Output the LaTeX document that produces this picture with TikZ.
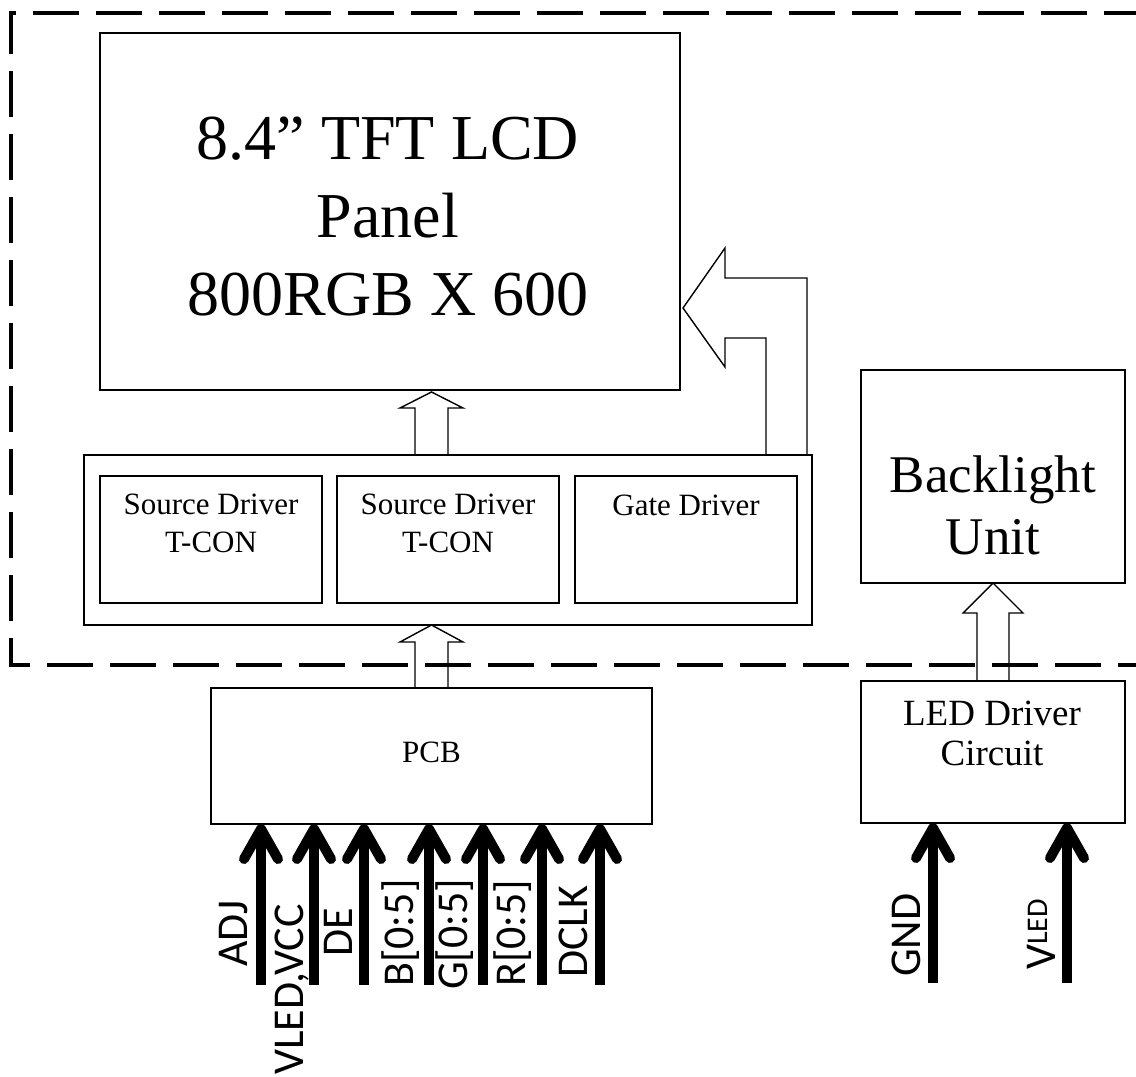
\documentclass[tikz,border=0pt]{standalone}
\usepackage{fontspec}
\setmainfont{Liberation Serif}
\newfontfamily\labelfont{Carlito}
\usetikzlibrary{arrows.meta}

\tikzset{
  box/.style={draw, line width=1.4pt, inner sep=0pt, outer sep=0pt},
  hollow/.style={draw, line width=1.4pt, line join=miter},
  border/.style={line width=4pt, dash pattern=on 46pt off 17pt},
  sig/.style={line width=10pt, -{Straight Barb[length=30pt,width=34pt,round]}},
  lab/.style={font=\labelfont\fontsize{44}{44}\selectfont, rotate=90, anchor=base west, inner sep=0pt},
  smalltext/.style={font=\fontsize{31}{38}\selectfont, align=center, inner sep=0pt}
}

% x, tip y, head base y, bottom y, half shaft, half head
\newcommand\hollowup[6]{%
  \draw[hollow] (#1-#5,#4) -- (#1-#5,#3) -- (#1-#6,#3) -- (#1,#2) -- (#1+#6,#3) -- (#1+#5,#3) -- (#1+#5,#4);
}

\begin{document}
\begin{tikzpicture}[x=1pt,y=-1pt]
  \useasboundingbox (0,0) rectangle (1136,1077);
  \clip (0,0) rectangle (1136,1077);

  % module outline
  \draw[border] (1150,13) -- (11,13) -- (11,665) -- (1150,665);

  % panel
  \node[box, minimum width=580pt, minimum height=357pt] (lcd) at (390,211.5) {};
  \node[font=\fontsize{64}{78}\selectfont, align=center, inner sep=0pt] (lcdtext) at (388,217) {8.4” TFT LCD\\Panel\\800RGB X 600};

  % drivers
  \node[box, minimum width=728pt, minimum height=170pt] (drv) at (448,540) {};
  \node[box, minimum width=222pt, minimum height=127pt] (src1) at (211,539.5) {};
  \node[box, minimum width=222pt, minimum height=127pt] (src2) at (448,539.5) {};
  \node[box, minimum width=222pt, minimum height=127pt] (gate) at (686,539.5) {};
  \node[smalltext] (src1text) at (211,523.5) {Source Driver\\T-CON};
  \node[smalltext] (src2text) at (448,523.5) {Source Driver\\T-CON};
  \node[smalltext] (gatetext) at (686,505) {Gate Driver};

  % pcb
  \node[box, minimum width=441pt, minimum height=136pt] (pcb) at (431.5,756) {};
  \node[smalltext] (pcbtext) at (431.5,752) {PCB};

  % backlight side
  \node[box, minimum width=264pt, minimum height=213pt] (blu) at (993,476.5) {};
  \node[font=\fontsize{53}{62}\selectfont, align=center, inner sep=0pt] (blutext) at (993,505.5) {Backlight\\Unit};
  \node[box, minimum width=264pt, minimum height=142pt] (led) at (993,752) {};
  \node[font=\fontsize{37}{40}\selectfont, align=center, inner sep=0pt] (ledtext) at (992,733.5) {LED Driver\\Circuit};

  % hollow arrows
  \hollowup{431.5}{392}{408}{455}{16.5}{31.5}
  \hollowup{431.5}{625}{642}{688}{16.5}{31.5}
  \hollowup{993}{583}{613}{681}{16}{30}
  \draw[hollow] (766,455) -- (766,338) -- (725,338) -- (725,367) -- (683,308) -- (725,248) -- (725,278) -- (807,278) -- (807,455);

  % input signals
  \coordinate (adj) at (261,985);
  \coordinate (vcc) at (314,985);
  \coordinate (de) at (364,985);
  \coordinate (bb) at (429,985);
  \coordinate (gg) at (483,985);
  \coordinate (rr) at (542,985);
  \coordinate (dclk) at (600,985);
  \coordinate (gnd) at (933,983);
  \coordinate (vled) at (1067,983);
  \draw[sig] (adj) -- (adj |- pcb.south);
  \draw[sig] (vcc) -- (vcc |- pcb.south);
  \draw[sig] (de) -- (de |- pcb.south);
  \draw[sig] (bb) -- (bb |- pcb.south);
  \draw[sig] (gg) -- (gg |- pcb.south);
  \draw[sig] (rr) -- (rr |- pcb.south);
  \draw[sig] (dclk) -- (dclk |- pcb.south);
  \draw[sig] (gnd) -- (gnd |- led.south);
  \draw[sig] (vled) -- (vled |- led.south);

  \node[lab] (ladj) at (247,967) {ADJ};
  \node[lab] (lvcc) at (303,1075) {VLED,VCC};
  \node[lab] (lde) at (352,957) {DE};
  \node[lab] (lb) at (413,987) {B[0:5]};
  \node[lab] (lg) at (467,990) {G[0:5]};
  \node[lab] (lr) at (525,987) {R[0:5]};
  \node[lab] (ldclk) at (587,978) {DCLK};
  \node[lab] (lgnd) at (920,977) {GND};
  \node[lab] (lvled) at (1055,970) {V\raisebox{7.5pt}{\fontsize{30}{30}\selectfont LED}};
\end{tikzpicture}
\end{document}
